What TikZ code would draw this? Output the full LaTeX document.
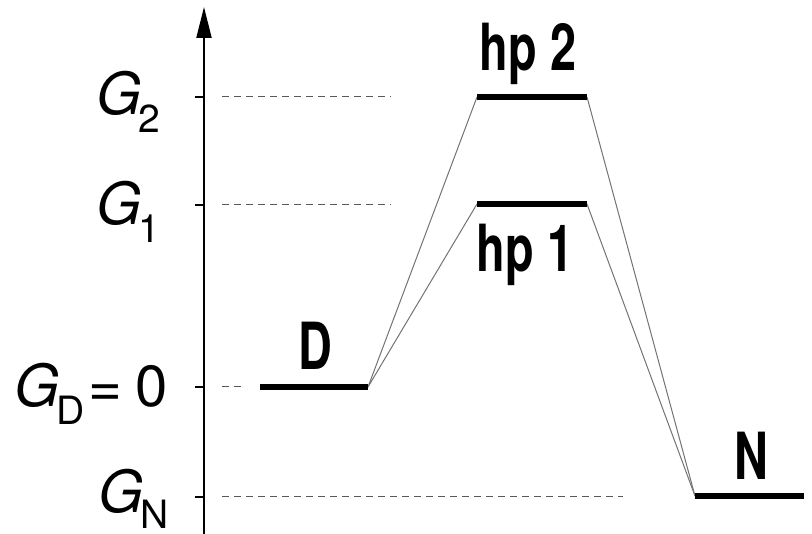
\documentclass[tikz,border=0pt]{standalone}
\usepackage{fontspec}
\setmainfont{TeX Gyre Heros}
\usetikzlibrary{arrows.meta}
\tikzset{
  lvl/.style={line width=6pt},
  conn/.style={line width=1pt, draw=black!55},
  guide/.style={line width=1pt, draw=black!65, dash pattern=on 7pt off 5pt},
  tick/.style={line width=2pt},
  glabel/.style={inner sep=0pt, anchor=base west, font=\fontsize{58}{58}\selectfont},
  blabel/.style={inner sep=0pt, anchor=base, font=\fontsize{65}{65}\selectfont\bfseries}
}
\newcommand{\subtxt}[2][18pt]{\raisebox{-#1}{\fontsize{39}{39}\selectfont\upshape #2}}
\newcommand{\Gvar}{{\itshape G\/}}
\begin{document}
\begin{tikzpicture}[x=1pt,y=-1pt]
\useasboundingbox (0,0) rectangle (812,534);
% coordinates
\coordinate (D1) at (260,387);
\coordinate (D2) at (368,387);
\coordinate (H2a) at (477,97);
\coordinate (H2b) at (587,97);
\coordinate (H1a) at (477,204);
\coordinate (H1b) at (587,204);
\coordinate (N1) at (695,496);
\coordinate (N2) at (804,496);
\coordinate (ax0) at (204,534);
\coordinate (ax1) at (204,7);
% guides
\coordinate (g2s) at (222,97);  \coordinate (g2e) at (391,97);
\coordinate (g1s) at (222,205); \coordinate (g1e) at (391,205);
\coordinate (gds) at (222,387); \coordinate (gde) at (244,387);
\coordinate (gns) at (222,497); \coordinate (gne) at (623,497);
\draw[guide] (g2s) -- (g2e);
\draw[guide] (g1s) -- (g1e);
\draw[guide] (gds) -- (gde);
\draw[guide] (gns) -- (gne);
% axis
\draw[line width=2pt, -{Triangle[length=31pt,width=15pt]}] (ax0) -- (ax1);
\coordinate (t2) at (195,97);  \coordinate (t2e) at (204,97);
\coordinate (t1) at (195,205); \coordinate (t1e) at (204,205);
\coordinate (td) at (195,387); \coordinate (tde) at (204,387);
\coordinate (tn) at (195,497); \coordinate (tne) at (204,497);
\draw[tick] (t2) -- (t2e);
\draw[tick] (t1) -- (t1e);
\draw[tick] (td) -- (tde);
\draw[tick] (tn) -- (tne);
% connectors
\draw[conn] (D2) -- (H2a);
\draw[conn] (D2) -- (H1a);
\draw[conn] (H2b) -- (N1);
\draw[conn] (H1b) -- (N1);
% levels
\draw[lvl] (D1) -- (D2);
\draw[lvl] (H2a) -- (H2b);
\draw[lvl] (H1a) -- (H1b);
\draw[lvl] (N1) -- (N2);
% axis labels
\node[glabel] (lG2) at (96,115) {\Gvar\kern-3pt\subtxt{2}};
\node[glabel] (lG1) at (96,225) {\Gvar\kern-3pt\subtxt{1}};
\node[glabel] (lGD) at (14,407) {\Gvar\kern-3pt\subtxt{D}\kern4pt=\kern13pt0};
\node[glabel] (lGN) at (98,513) {\Gvar\kern-3pt\subtxt[16pt]{N}};
% level labels
\node[blabel] (lD) at (315,370) {\scalebox{0.72}[1]{D}};
\node[blabel] (lN) at (751,480) {\scalebox{0.72}[1]{N}};
\node[blabel] (lH2) at (528,71) {\scalebox{0.72}[1]{hp 2}};
\node[blabel] (lH1) at (525,272) {\scalebox{0.72}[1]{hp 1}};
\end{tikzpicture}
\end{document}
